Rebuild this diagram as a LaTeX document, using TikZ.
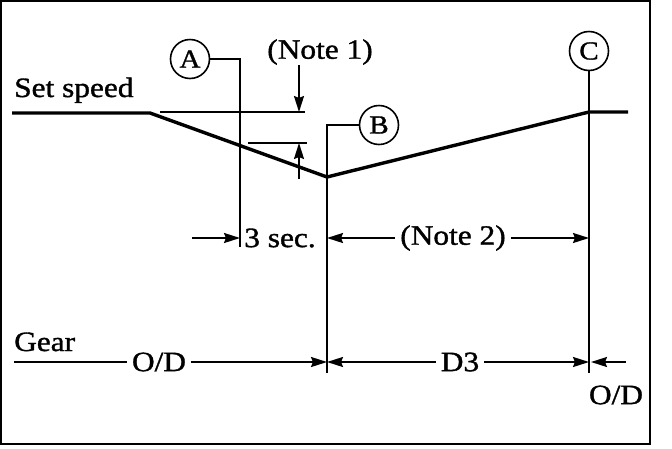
\documentclass[tikz,border=0pt]{standalone}
\usepackage{fontspec}
\setmainfont{Liberation Serif}[FakeStretch=1.12,FakeBold=1.2]
\usetikzlibrary{positioning,arrows.meta,calc}
\tikzset{
  speedline/.style={line width=3.4pt,line join=miter},
  thinline/.style={line width=1.5pt},
  dimflow/.style={-{Stealth[length=16pt,width=10pt,inset=2pt]},line width=2pt},
  tagcircle/.style={circle,draw,line width=1.6pt,minimum size=39pt,inner sep=0pt,
    font=\fontsize{26}{28}\selectfont},
  lbl/.style={inner xsep=5pt,inner ysep=0pt,font=\fontsize{28}{30}\selectfont}
}

\begin{document}
\begin{tikzpicture}[x=1pt,y=-1pt]
  \useasboundingbox (0,0) rectangle (672,448);
  \draw[line width=1.2pt] (1,1) rectangle (650,444);
  % set speed trace
  \node[lbl,anchor=base west,inner xsep=0pt] (setspd) at (14,97) {Set speed};
  \coordinate (ss0) at (12,113);
  \coordinate (dec) at (150,113);
  \coordinate (low) at (327,177);
  \coordinate (rise) at (589,112);
  \coordinate (ss1) at (628,112);
  \draw[speedline] (ss0) -- (dec) -- (low) -- (rise) -- (ss1);
  % points A, B, C
  \node[tagcircle] (A) at (190,59) {A};
  \node[tagcircle] (B) at (379,125) {B};
  \node[tagcircle] (C) at (589,51) {C};
  \coordinate (abot) at (240,247);
  \coordinate (bbot) at (327,373);
  \coordinate (cbot) at (589,373);
  \draw[thinline] (A.east) -| (abot);
  \draw[thinline] (B.west) -| (bbot);
  \draw[thinline] (C.south) -- (cbot);
  % note 1
  \node[lbl] (note1) at (320,52) {(Note 1)};
  \coordinate (up0) at (160,112);
  \coordinate (up1) at (305,112);
  \coordinate (lo0) at (248,143);
  \coordinate (lo1) at (307,143);
  \draw[thinline] (up0) -- (up1);
  \draw[thinline] (lo0) -- (lo1);
  \draw[dimflow] (note1.south -| 299,0) -- (299,112);
  \draw[dimflow] (299,179) -- (299,143);
  % timing row
  \node[lbl,inner xsep=0pt] (sec) at (280,238) {3 sec.};
  \node[lbl] (note2) at (453,238) {(Note 2)};
  \draw[dimflow] (192,238) -- (abot |- sec);
  \draw[dimflow] (note2.west) -- (bbot |- note2);
  \draw[dimflow] (note2.east) -- (cbot |- note2);
  % gear row
  \node[lbl,anchor=base west,inner xsep=0pt] (gear) at (14,351) {Gear};
  \node[lbl] (od1) at (159,362) {O/D};
  \node[lbl] (d3) at (460,362) {D3};
  \node[lbl,inner xsep=0pt] (od2) at (616,395) {O/D};
  \draw[line width=2pt] (14,362) -- (od1.west);
  \draw[dimflow] (od1.east) -- (bbot |- od1);
  \draw[dimflow] (d3.west) -- (bbot |- d3);
  \draw[dimflow] (d3.east) -- (cbot |- d3);
  \draw[dimflow] (626,362) -- (591,362);
\end{tikzpicture}
\end{document}
